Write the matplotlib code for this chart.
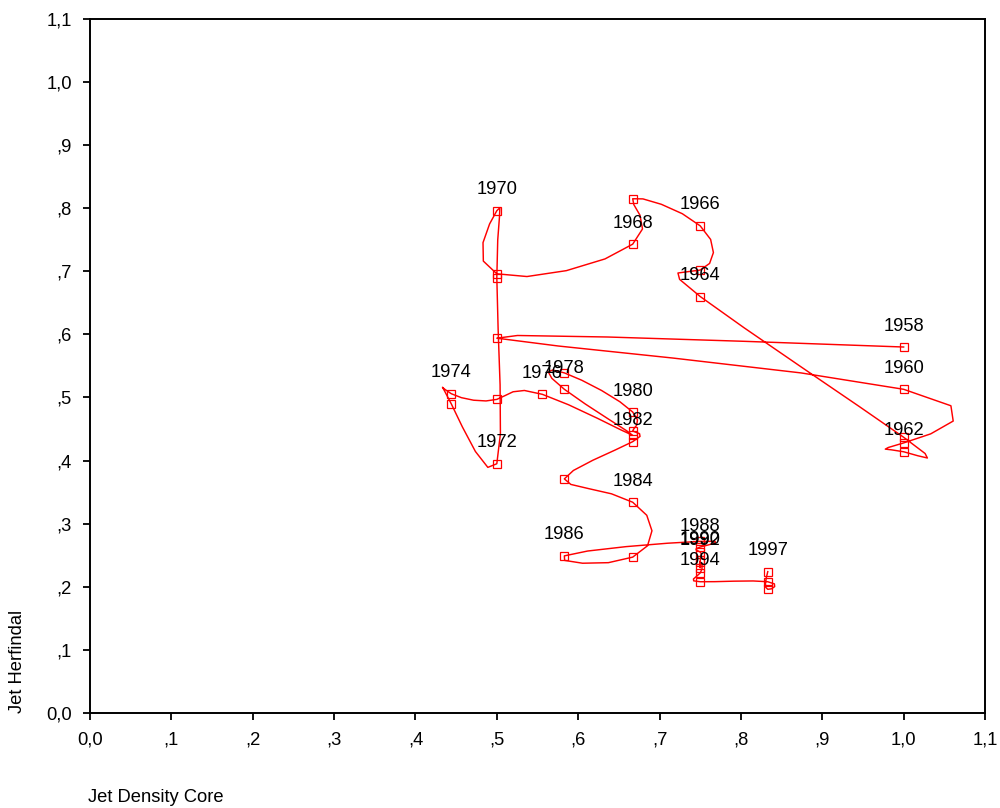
import numpy as np
import matplotlib.pyplot as plt

plt.rcParams["font.family"] = ["Liberation Sans", "DejaVu Sans"]

# yearly positions: density core (x) against herfindal (y)
years = list(range(1958, 1998))
density_core = [
    1.000, 0.500, 1.000, 1.000, 1.000, 1.000, 0.750, 0.750, 0.750, 0.667,
    0.667, 0.500, 0.500, 0.500, 0.500, 0.444, 0.444, 0.500, 0.556, 0.667,
    0.583, 0.583, 0.667, 0.667, 0.667, 0.583, 0.667, 0.667, 0.583, 0.750,
    0.750, 0.750, 0.750, 0.750, 0.750, 0.750, 0.750, 0.833, 0.833, 0.833,
]
herfindal = [
    0.580, 0.594, 0.513, 0.428, 0.414, 0.437, 0.660, 0.702, 0.772, 0.815,
    0.743, 0.696, 0.796, 0.690, 0.395, 0.490, 0.506, 0.497, 0.505, 0.440,
    0.513, 0.539, 0.477, 0.447, 0.430, 0.371, 0.334, 0.247, 0.249, 0.272,
    0.263, 0.255, 0.242, 0.230, 0.240, 0.222, 0.208, 0.208, 0.196, 0.224,
]
labelled_years = [1958, 1960, 1962, 1964, 1966, 1968, 1970, 1972, 1974, 1976,
                  1978, 1980, 1982, 1984, 1986, 1988, 1990, 1992, 1994, 1997]

ticks = np.arange(0, 12) / 10
tick_labels = ["0,0", ",1", ",2", ",3", ",4", ",5", ",6", ",7", ",8", ",9", "1,0", "1,1"]

FS = 13.2


def natural_spline(v, steps):
    # natural cubic spline through v, parametrised by case number
    v = np.asarray(v, dtype=float)
    n = len(v)
    A = np.zeros((n, n))
    b = np.zeros(n)
    A[0, 0] = A[-1, -1] = 1
    for i in range(1, n - 1):
        A[i, i - 1], A[i, i], A[i, i + 1] = 1, 4, 1
        b[i] = 6 * (v[i + 1] - 2 * v[i] + v[i - 1])
    M = np.linalg.solve(A, b)
    out = []
    for i in range(n - 1):
        for u in np.linspace(0, 1, steps, endpoint=False):
            w = 1 - u
            out.append(w * v[i] + u * v[i + 1]
                       + (w ** 3 - w) * M[i] / 6 + (u ** 3 - u) * M[i + 1] / 6)
    out.append(v[-1])
    return np.array(out)


fig = plt.figure(figsize=(10, 8.08), dpi=100)
ax = fig.add_axes([0.09, 0.1176, 0.895, 0.859])

sx = natural_spline(density_core, 4)
sy = natural_spline(herfindal, 4)
ax.plot(sx, sy, color="red", lw=1.05)
ax.plot(density_core, herfindal, ls="none", marker="s", ms=5.5,
        mfc="none", mec="red", mew=0.9)

for yr, xv, yv in zip(years, density_core, herfindal):
    if yr in labelled_years:
        ax.annotate(str(yr), (xv, yv), xytext=(0, 21), textcoords="offset pixels",
                    ha="center", va="center", fontsize=FS)

ax.set_xlim(0, 1.1)
ax.set_ylim(0, 1.1)
ax.set_xticks(ticks)
ax.set_xticklabels(tick_labels, fontsize=FS)
ax.set_yticks(ticks)
ax.set_yticklabels(tick_labels, fontsize=FS)
ax.tick_params(direction="out", length=5, width=1.3)
ax.tick_params(axis="x", pad=8)
ax.tick_params(axis="y", pad=8)
for sp in ax.spines.values():
    sp.set_linewidth(1.4)

fig.text(0.088, 0.0136, "Jet Density Core", fontsize=FS, ha="left", va="center")
fig.text(0.018, 0.117, "Jet Herfindal", fontsize=FS, rotation=90,
         ha="center", va="bottom")

fig.savefig("out.png", dpi=100)
